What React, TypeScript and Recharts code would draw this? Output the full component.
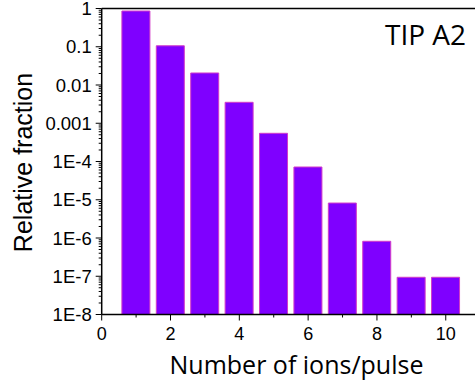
import React from 'react';
import { BarChart, Bar, XAxis, YAxis, ReferenceLine } from 'recharts';

const ionCounts = [1, 2, 3, 4, 5, 6, 7, 8, 9, 10];
const fractions = [0.86, 0.106, 0.0206, 0.00353, 5.46e-4, 7.18e-5, 8.2e-6, 8.2e-7, 9.4e-8, 9.4e-8];

const yMajorTicks = [1, 0.1, 0.01, 0.001, 1e-4, 1e-5, 1e-6, 1e-7, 1e-8];
const yTickLabels = ['1', '0.1', '0.01', '0.001', '1E-4', '1E-5', '1E-6', '1E-7', '1E-8'];
const yMinorMultipliers = [2, 3, 4, 5, 6, 7, 8, 9];
const xTicks = [0, 1, 2, 3, 4, 5, 6, 7, 8, 9, 10];
const xLabeledTicks = [0, 2, 4, 6, 8, 10];

const data = ionCounts.map((n, i) => ({ n, f: fractions[i] }));

const yAllTicks: number[] = [];
yMajorTicks.forEach((t) => {
  yAllTicks.push(t);
  if (t < 1) yMinorMultipliers.forEach((m) => yAllTicks.push(t * m));
});
yAllTicks.sort((a, b) => a - b);

const tickFont = '"Liberation Sans", Arial, sans-serif';
const titleFont = '"Open Sans", sans-serif';

const YTick = (props: any) => {
  const { x, y, payload } = props;
  const v = payload.value;
  const idx = yMajorTicks.findIndex((t) => Math.abs(Math.log10(t) - Math.log10(v)) < 1e-6);
  const major = idx >= 0;
  return (
    <g>
      <line x1={x - (major ? 6 : 3)} x2={x} y1={y} y2={y} stroke="#000" strokeWidth={1} />
      {major && (
        <text x={x - 10} y={y} textAnchor="end" dominantBaseline="central" fontFamily={tickFont} fontSize={18.5} fill="#000">
          {yTickLabels[idx]}
        </text>
      )}
    </g>
  );
};

const XTick = (props: any) => {
  const { x, y, payload } = props;
  const v = payload.value;
  const major = xLabeledTicks.includes(v);
  return (
    <g>
      <line x1={x} x2={x} y1={y} y2={y + (major ? 6 : 3)} stroke="#000" strokeWidth={1} />
      {major && (
        <text x={x} y={y + 25.5} textAnchor="middle" fontFamily={tickFont} fontSize={18} fill="#000">
          {String(v)}
        </text>
      )}
    </g>
  );
};

export default function App() {
  return (
    <div style={{ position: 'absolute', left: 0, top: 0, width: 475, height: 383, background: '#fff' }}>
      <BarChart width={475} height={383} data={data} margin={{ top: 8.5, right: 0, left: 0, bottom: 0 }}>
        <XAxis
          type="number"
          dataKey="n"
          domain={[0, 10.85]}
          allowDataOverflow
          ticks={xTicks}
          interval={0}
          tickSize={0}
          tickMargin={0}
          tickLine={false}
          tick={<XTick />}
          height={68.5}
          axisLine={{ stroke: '#000', strokeWidth: 1.5 }}
          label={{
            content: () => (
              <text x={296.5} y={374} textAnchor="middle" fontFamily={titleFont} fontSize={25} fill="#000">
                Number of ions/pulse
              </text>
            ),
          }}
        />
        <YAxis
          type="number"
          scale="log"
          domain={[1e-8, 1]}
          allowDataOverflow
          ticks={yAllTicks}
          interval={0}
          tickSize={0}
          tickMargin={0}
          tickLine={false}
          tick={<YTick />}
          width={101.7}
          axisLine={{ stroke: '#000', strokeWidth: 1.5 }}
          label={{
            content: () => (
              <text
                x={32}
                y={162.5}
                textAnchor="middle"
                transform="rotate(-90, 32, 162.5)"
                fontFamily={tickFont}
                fontSize={25}
                fill="#000"
              >
                Relative fraction
              </text>
            ),
          }}
        />
        <Bar dataKey="f" fill="#7F00FF" stroke="#D23CC8" strokeWidth={1} barSize={28} isAnimationActive={false} />
        <ReferenceLine
          y={1}
          stroke="#000"
          strokeWidth={1.5}
          label={{
            content: () => (
              <text x={385} y={45} fontFamily={titleFont} fontSize={28} fill="#000">
                TIP A2
              </text>
            ),
          }}
        />
      </BarChart>
    </div>
  );
}
